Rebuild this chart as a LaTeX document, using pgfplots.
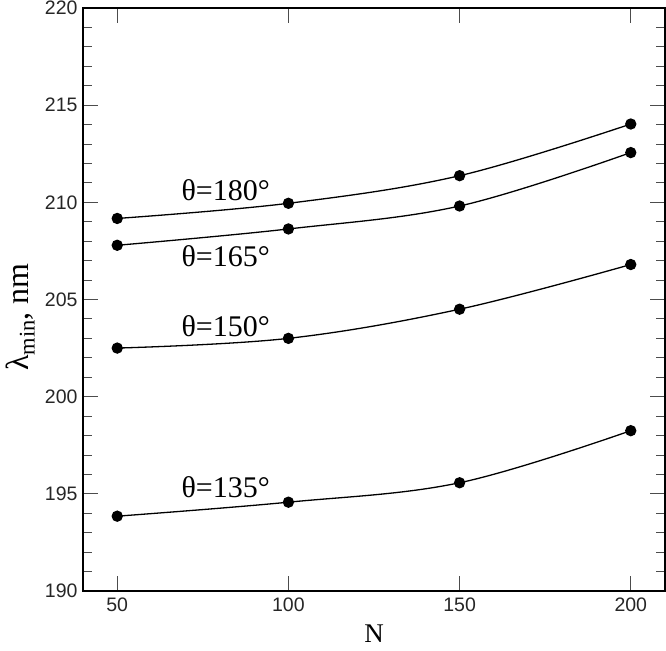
\documentclass[border=0pt]{standalone}
\usepackage{fontspec}
\setmainfont{Liberation Serif}
\newfontfamily\ticksf{Liberation Sans}
\usepackage{pgfplots}
\pgfplotsset{compat=1.18}
\pgfplotsset{myline/.style={black, line width=1.3pt, smooth, tension=0.6, mark=*, mark size=5pt, mark options={solid, fill=black}}}
\begin{document}
\begin{tikzpicture}
\begin{axis}[
  scale only axis,
  width=582pt, height=583pt,
  xmin=40, xmax=210, ymin=190, ymax=220,
  xtick={50,100,150,200},
  ytick={190,195,...,220},
  minor y tick num=4,
  tick align=inside,
  major tick length=15pt,
  minor tick length=9.5pt,
  tick style={draw=black!70, line width=0.9pt},
  axis line style={black, line width=1.1pt},
  /pgf/number format/assume math mode=true,
  ticklabel style={font=\ticksf\fontsize{19.5}{22}\selectfont, black!85},
  xticklabel style={yshift=-3pt},
  yticklabel style={xshift=-2pt},
  xlabel={N},
  xlabel style={font=\fontsize{27}{30}\selectfont, at={(axis description cs:0.5,-0.074)}, anchor=center},
  ylabel={λ\textsubscript{min}, nm},
  ylabel style={font=\fontsize{32}{36}\selectfont, at={(axis description cs:-0.108,0.47)}, anchor=center},
  clip=false,
]
\addplot[myline] coordinates {(50,209.17) (100,209.95) (150,211.37) (200,214.03)};
\addplot[myline] coordinates {(50,207.79) (100,208.63) (150,209.81) (200,212.56)};
\addplot[myline] coordinates {(50,202.5) (100,203.0) (150,204.5) (200,206.8)};
\addplot[myline] coordinates {(50,193.85) (100,194.57) (150,195.57) (200,198.25)};
\node[font=\fontsize{30}{34}\selectfont, anchor=center] at (axis cs:81.7,210.63) {θ=180°};
\node[font=\fontsize{30}{34}\selectfont, anchor=center] at (axis cs:81.7,207.24) {θ=165°};
\node[font=\fontsize{30}{34}\selectfont, anchor=center] at (axis cs:81.7,203.65) {θ=150°};
\node[font=\fontsize{30}{34}\selectfont, anchor=center] at (axis cs:81.7,195.32) {θ=135°};
\end{axis}
\pgfresetboundingbox
\path[use as bounding box] ([shift={(-83pt,-59pt)}]current axis.south west) rectangle ([shift={(1pt,8pt)}]current axis.north east);
\end{tikzpicture}
\end{document}
